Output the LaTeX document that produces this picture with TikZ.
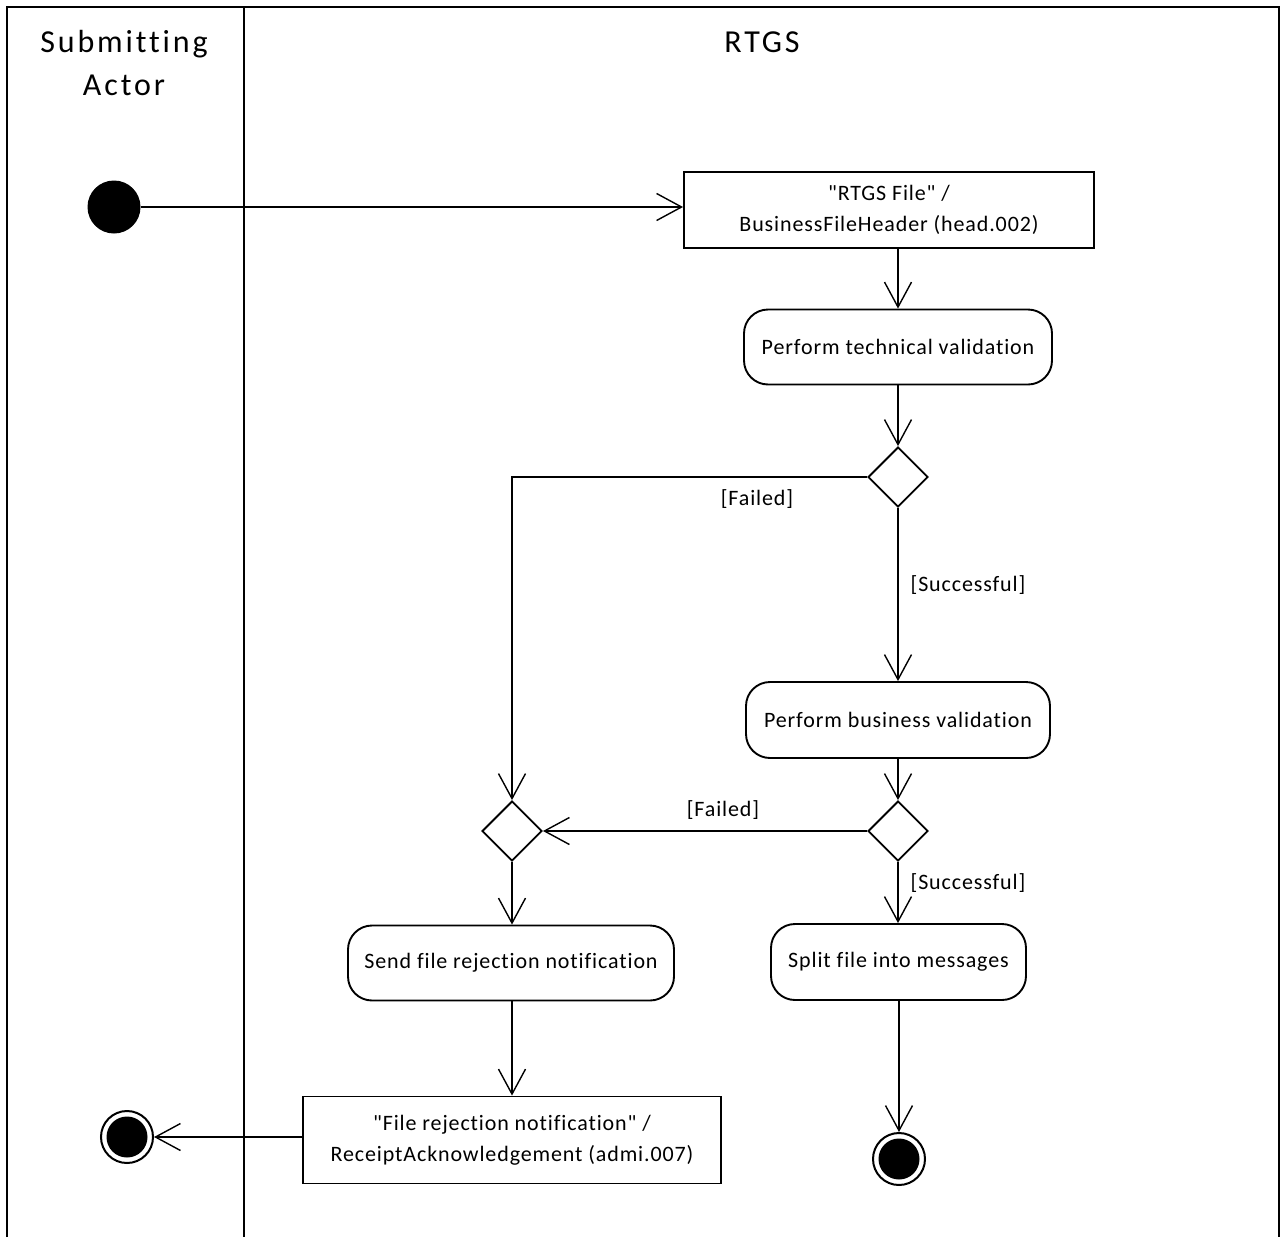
\documentclass[tikz,border=0pt]{standalone}
\usepackage{fontspec}
\setmainfont{Carlito}
\newfontfamily\hdrfont[LetterSpace=9,Ligatures={NoCommon}]{Carlito}
\newfontfamily\txtfont[LetterSpace=4,Ligatures={NoCommon}]{Carlito}
\usetikzlibrary{shapes.geometric,arrows.meta}
\begin{document}
\begin{tikzpicture}[x=1pt,y=-1pt,
  hdr/.style={font=\hdrfont\fontsize{32}{43}\selectfont, align=center, inner sep=0},
  txt/.style={font=\txtfont\fontsize{22}{31}\selectfont, align=center, inner sep=0},
  act/.style={draw, line width=1.9pt, rounded corners=24pt, inner sep=0, align=center,
              font=\txtfont\fontsize{22}{31}\selectfont},
  obj/.style={draw, line width=1.9pt, inner sep=0, align=center,
              font=\txtfont\fontsize{22}{31}\selectfont},
  dec/.style={draw, diamond, line width=1.9pt, minimum width=60pt, minimum height=60pt, inner sep=0},
  startnode/.style={circle, fill=black, minimum size=53pt, inner sep=0},
  endnode/.style={circle, draw, line width=2pt, minimum size=52pt, inner sep=0,
     path picture={\fill (path picture bounding box.center) circle (20.5pt);}},
  flow/.style={line width=1.4pt, -{Straight Barb[length=25pt,width=27pt,line width=1.4pt]}},
  lane/.style={line width=2.2pt}]
\useasboundingbox (0,0) rectangle (1282,1237);
% swimlanes
\draw[lane] (7,1237) -- (7,7) -- (1279,7) -- (1279,1237);
\draw[lane] (244,7) -- (244,1237);
\node[hdr] (h1) at (124,63) {Submitting\\Actor};
\node[hdr] (h2) at (762,42) {RTGS};
% nodes
\node[startnode] (start) at (114,207) {};
\node[obj, minimum width=410pt, minimum height=76pt] (box1) at (889,210) {"RTGS File" /\\BusinessFileHeader (head.002)};
\node[act, minimum width=308pt, minimum height=75pt] (act1) at (898,347) {Perform technical validation};
\node[dec] (d1) at (898,477) {};
\node[act, minimum width=304pt, minimum height=76pt] (act2) at (898,720) {Perform business validation};
\node[dec] (d3) at (898,831) {};
\node[dec] (d2) at (512,831) {};
\node[act, minimum width=326pt, minimum height=75pt] (act3) at (511,963) {Send file rejection notification};
\node[act, minimum width=255pt, minimum height=76pt] (act4) at (898.5,962) {Split file into messages};
\node[obj, minimum width=418pt, minimum height=87pt] (box2) at (512,1140) {"File rejection notification" /\\ReceiptAcknowledgement (admi.007)};
\node[endnode] (fin1) at (127,1137) {};
\node[endnode] (fin2) at (899,1159) {};
% guards
\node[txt] (g1) at (757,499) {[Failed]};
\node[txt] (g2) at (968,585) {[Successful]};
\node[txt] (g3) at (723,810) {[Failed]};
\node[txt] (g4) at (968,883) {[Successful]};
% flows
\draw[flow] (start) -- (start -| box1.west);
\draw[flow] (box1.south -| act1) -- (act1);
\draw[flow] (act1) -- (d1);
\draw[flow] (d1.west) -| (d2.north);
\draw[flow] (d1) -- (act2);
\draw[flow] (act2) -- (d3);
\draw[flow] (d3) -- (d2);
\draw[flow] (d2) -- (act3.north -| d2);
\draw[flow] (d3) -- (act4.north -| d3);
\draw[flow] (act3.south -| box2) -- (box2);
\draw[flow] (box2.west |- fin1) -- (fin1);
\draw[flow] (act4.south -| fin2) -- (fin2);
\end{tikzpicture}
\end{document}
